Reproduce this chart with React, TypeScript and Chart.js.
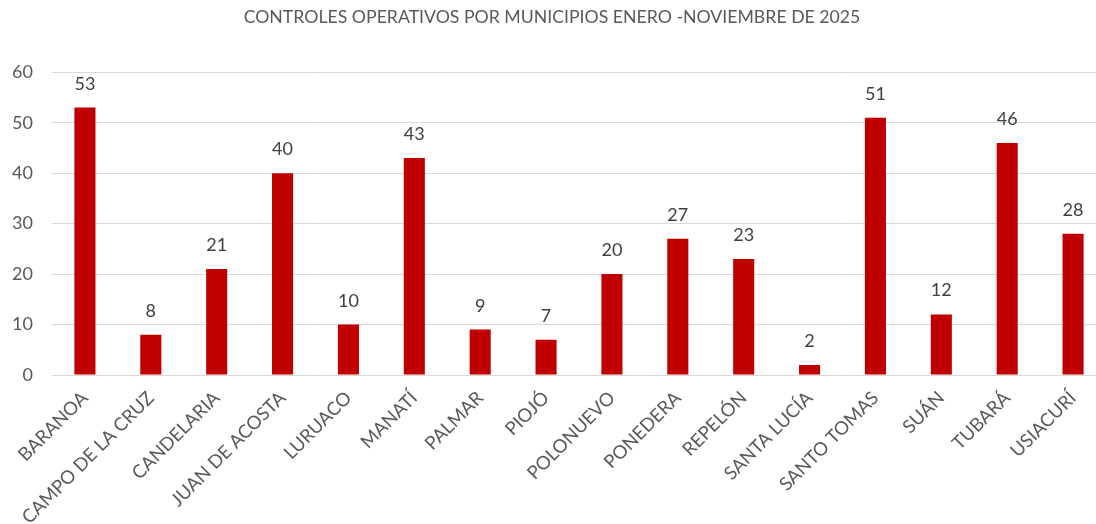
import React, { useEffect, useRef } from "react";
import { Chart, registerables } from "chart.js";

Chart.register(...registerables);

const titleText = "CONTROLES OPERATIVOS POR MUNICIPIOS ENERO -NOVIEMBRE DE 2025";
const municipios = [
  "BARANOA",
  "CAMPO DE LA CRUZ",
  "CANDELARIA",
  "JUAN DE ACOSTA",
  "LURUACO",
  "MANATÍ",
  "PALMAR",
  "PIOJÓ",
  "POLONUEVO",
  "PONEDERA",
  "REPELÓN",
  "SANTA LUCÍA",
  "SANTO TOMAS",
  "SUÁN",
  "TUBARÁ",
  "USIACURÍ",
];
const controles = [53, 8, 21, 40, 10, 43, 9, 7, 20, 27, 23, 2, 51, 12, 46, 28];
const yTicks = [0, 10, 20, 30, 40, 50, 60];

const FONT = "Lato";
const TEXT = "#595959";

const valueLabels = {
  id: "valueLabels",
  afterDatasetsDraw(chart: any) {
    const ctx = chart.ctx;
    const meta = chart.getDatasetMeta(0);
    const data = chart.data.datasets[0].data as number[];
    ctx.save();
    ctx.font = `18px ${FONT}`;
    ctx.fillStyle = "#404040";
    ctx.textAlign = "center";
    ctx.textBaseline = "alphabetic";
    meta.data.forEach((bar: any, i: number) => {
      ctx.fillText(String(data[i]), bar.x, bar.y - 18);
    });
    ctx.restore();
  },
};

export default function App() {
  const ref = useRef<HTMLCanvasElement | null>(null);
  useEffect(() => {
    if (!ref.current) return;
    const chart = new Chart(ref.current, {
      type: "bar",
      data: {
        labels: municipios,
        datasets: [
          {
            data: controles,
            backgroundColor: "#C00000",
            barPercentage: 1,
            categoryPercentage: 0.32,
          },
        ],
      },
      options: {
        animation: false,
        responsive: true,
        maintainAspectRatio: false,
        layout: { padding: 0 },
        plugins: {
          legend: { display: false },
          tooltip: { enabled: false },
          title: {
            display: true,
            text: titleText,
            color: TEXT,
            font: { family: FONT, size: 17.7, weight: "normal" },
            padding: { top: 7, bottom: 44 },
          },
        },
        scales: {
          x: {
            grid: { display: false, drawTicks: false },
            border: { display: false },
            afterFit(scale: any) {
              scale.paddingLeft = 0;
              scale.paddingRight = 0;
              scale.height = 149;
            },
            ticks: {
              autoSkip: false,
              maxRotation: 45,
              minRotation: 45,
              color: TEXT,
              font: { family: FONT, size: 18.5 },
              padding: 12,
            },
          },
          y: {
            min: 0,
            max: 60,
            afterBuildTicks(axis: any) {
              axis.ticks = yTicks.map((v) => ({ value: v }));
            },
            afterFit(scale: any) {
              scale.width = 54;
            },
            grid: { color: "#d9d9d9", lineWidth: 1, drawTicks: false },
            border: { display: false },
            ticks: {
              color: TEXT,
              font: { family: FONT, size: 18 },
              padding: 19,
            },
          },
        },
      },
      plugins: [valueLabels],
    });
    return () => chart.destroy();
  }, []);
  return (
    <div
      style={{
        position: "absolute",
        left: 0,
        top: 0,
        width: 1096,
        height: 524,
        overflow: "hidden",
        background: "#fff",
      }}
    >
      <div style={{ position: "absolute", left: -2, top: 0, width: 1108, height: 524 }}>
        <canvas ref={ref} />
      </div>
    </div>
  );
}
